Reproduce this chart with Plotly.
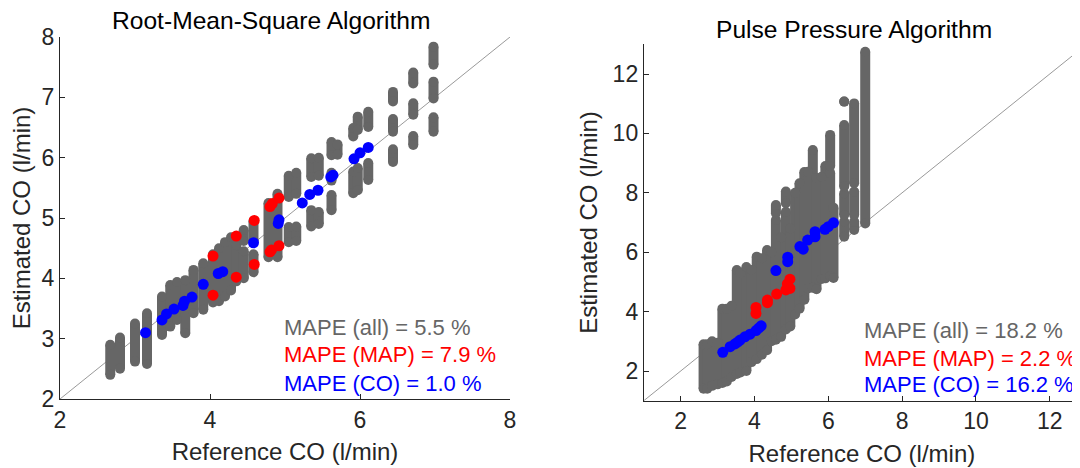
import plotly.graph_objects as go

# ---------------- data ----------------
# Root-Mean-Square: gray clouds as vertical runs of points (x, y_low, y_high)
rms_gray_x  = [2.67, 2.80, 3.00, 3.16, 3.36, 3.47, 3.56, 3.67, 3.78, 3.91,
               4.04, 4.12, 4.20, 4.28, 4.35, 4.45, 4.45, 4.58, 4.58, 4.78,
               4.90, 5.05, 5.15, 5.05, 5.15, 5.35, 5.45, 5.35, 5.45, 5.62,
               5.62, 5.70, 5.62, 5.91, 5.97, 6.11, 5.91, 5.97, 6.11, 6.44,
               6.44, 6.44, 6.71, 6.71, 6.71, 6.98, 6.98, 6.98]
rms_gray_lo = [2.40, 2.50, 2.62, 2.58, 3.06, 3.20, 3.31, 3.09, 3.42, 3.48,
               3.60, 3.62, 3.70, 3.80, 3.95, 4.00, 4.62, 4.10, 4.62, 4.35,
               4.35, 4.60, 4.62, 5.35, 5.40, 4.86, 4.90, 5.68, 5.70, 5.13,
               6.04, 6.05, 5.62, 5.41, 5.46, 5.63, 6.35, 6.46, 6.51, 5.93,
               6.43, 6.93, 6.21, 6.71, 7.23, 6.43, 6.98, 7.54]
rms_gray_hi = [2.90, 3.02, 3.25, 3.42, 3.70, 3.89, 3.94, 3.97, 4.14, 4.25,
               4.40, 4.50, 4.60, 4.68, 4.55, 4.45, 4.80, 4.40, 4.95, 5.25,
               5.40, 4.85, 4.86, 5.70, 5.75, 5.13, 5.10, 5.99, 6.00, 5.38,
               6.26, 6.22, 5.75, 5.77, 5.83, 5.91, 6.49, 6.68, 6.76, 6.14,
               6.64, 7.09, 6.36, 6.90, 7.41, 6.67, 7.26, 7.84]
rms_co_x  = [3.14, 3.36, 3.42, 3.52, 3.64, 3.66, 3.76, 3.91, 4.11, 4.17,
             4.58, 4.92, 4.91, 5.23, 5.33, 5.44, 5.61, 5.64, 5.92, 6.00, 6.11]
rms_co_y  = [3.10, 3.31, 3.41, 3.49, 3.55, 3.62, 3.69, 3.90, 4.08, 4.11,
             4.59, 4.97, 4.91, 5.25, 5.39, 5.46, 5.68, 5.71, 5.98, 6.08, 6.17]
rms_map_x = [4.04, 4.04, 4.35, 4.35, 4.59, 4.59, 4.80, 4.83, 4.92, 4.80, 4.82, 4.92]
rms_map_y = [4.37, 3.72, 4.70, 4.02, 4.96, 4.23, 5.19, 5.24, 5.33, 4.44, 4.47, 4.54]
rms_diag  = [2, 8]
rms_mape  = ["MAPE (all) = 5.5 %", "MAPE (MAP) = 7.9 %", "MAPE (CO) = 1.0 %"]

# Pulse Pressure
pp_gray_x  = [2.62, 2.72, 2.85, 3.00, 3.13, 3.25, 3.38, 3.52, 3.62, 3.78,
              3.92, 4.06, 4.20, 4.34, 4.46, 4.58, 4.58, 4.72, 4.85, 4.85,
              4.97, 5.10, 5.22, 5.35, 5.45, 5.58, 5.68, 5.82, 5.92, 6.05,
              6.05, 6.14, 6.43, 6.43, 6.43, 6.43, 6.70, 6.70, 6.70, 7.00]
pp_gray_lo = [1.40, 1.40, 1.50, 1.55, 1.60, 1.65, 1.80, 1.90, 1.95, 2.00,
              2.30, 2.40, 2.55, 2.70, 3.00, 3.05, 7.31, 3.15, 3.40, 7.65,
              3.50, 3.90, 4.10, 4.40, 4.78, 4.80, 4.75, 5.10, 5.12, 5.20,
              8.90, 5.13, 6.52, 7.25, 8.21, 11.07, 6.75, 7.25, 8.32, 6.97]
pp_gray_hi = [2.90, 2.90, 3.00, 2.95, 4.10, 4.10, 4.20, 5.40, 5.30, 5.50,
              5.40, 5.85, 5.80, 6.07, 6.00, 7.08, 7.59, 6.50, 7.36, 8.04,
              6.80, 8.00, 8.32, 8.70, 8.71, 9.44, 8.50, 8.54, 8.90, 8.67,
              9.95, 7.50, 7.03, 7.98, 10.28, 11.07, 7.03, 8.04, 11.01, 12.75]
pp_co_x  = [3.14, 3.34, 3.47, 3.54, 3.61, 3.74, 3.88, 4.04, 4.12, 4.18,
            4.58, 4.90, 4.90, 5.23, 5.32, 5.44, 5.64, 5.64, 5.91, 6.00, 6.14]
pp_co_y  = [2.63, 2.82, 2.91, 2.97, 3.04, 3.15, 3.24, 3.36, 3.45, 3.52,
            5.38, 5.83, 5.68, 6.19, 6.10, 6.41, 6.69, 6.52, 6.77, 6.86, 6.99]
pp_map_x = [4.04, 4.04, 4.35, 4.35, 4.60, 4.85, 4.89, 4.96, 4.96]
pp_map_y = [4.14, 3.94, 4.39, 4.30, 4.59, 4.73, 4.93, 5.09, 4.78]
pp_diag  = [1, 13]
pp_mape  = ["MAPE (all) = 18.2 %", "MAPE (MAP) = 2.2 %", "MAPE (CO) = 16.2 %"]

# ---------------- style ----------------
GRAY = "#666666"
RED = "#ff0000"
BLUE = "#0000ff"
AXC = "#262626"
FONT = "Liberation Sans, Arial, Helvetica, sans-serif"

fig = go.Figure()


def runs(xs, lo, hi):
    X, Y = [], []
    for x, a, b in zip(xs, lo, hi):
        X += [x, x, None]
        Y += [a, b, None]
    return X, Y


def add_panel(gx, glo, ghi, cx, cy, mx, my, diag, xa, ya):
    fig.add_trace(go.Scatter(x=diag, y=diag, mode="lines",
                             line=dict(color="#7f7f7f", width=0.8),
                             xaxis=xa, yaxis=ya, hoverinfo="skip"))
    X, Y = runs(gx, glo, ghi)
    fig.add_trace(go.Scatter(x=X, y=Y, mode="lines+markers",
                             line=dict(color=GRAY, width=10),
                             marker=dict(color=GRAY, size=10, line=dict(width=0)),
                             xaxis=xa, yaxis=ya))
    fig.add_trace(go.Scatter(x=mx, y=my, mode="markers",
                             marker=dict(color=RED, size=11, line=dict(width=0)),
                             xaxis=xa, yaxis=ya))
    fig.add_trace(go.Scatter(x=cx, y=cy, mode="markers",
                             marker=dict(color=BLUE, size=11, line=dict(width=0)),
                             xaxis=xa, yaxis=ya))


add_panel(rms_gray_x, rms_gray_lo, rms_gray_hi, rms_co_x, rms_co_y,
          rms_map_x, rms_map_y, rms_diag, "x", "y")
add_panel(pp_gray_x, pp_gray_lo, pp_gray_hi, pp_co_x, pp_co_y,
          pp_map_x, pp_map_y, pp_diag, "x2", "y2")

# the page body adds an 8 px margin, so the figure is 8 px smaller each way
OFF = 8
W, H = 1080 - OFF, 468 - OFF


def px(sx):
    return (sx - OFF) / W


def py(sy):
    return (H - (sy - OFF)) / H


def ax(domain, rng, ticks, title, standoff):
    return dict(domain=domain, range=rng, tickvals=ticks,
                ticktext=[str(t) for t in ticks], automargin=False,
                ticks="inside", ticklen=5, tickcolor=AXC, tickwidth=1,
                showline=True, linecolor=AXC, linewidth=1, mirror=False,
                showgrid=False, zeroline=False,
                tickfont=dict(family=FONT, size=23, color=AXC),
                title=dict(text=title, font=dict(family=FONT, size=24, color=AXC),
                           standoff=standoff))


fig.update_layout(
    width=W, height=H, margin=dict(l=0, r=0, t=0, b=0, autoexpand=False),
    paper_bgcolor="white", plot_bgcolor="white", showlegend=False,
    xaxis=ax([px(60), px(510)], [2, 8], [2, 4, 6, 8], "Reference CO (l/min)", 11),
    yaxis=ax([py(399), py(37)], [2, 8], [2, 3, 4, 5, 6, 7, 8],
             "Estimated CO (l/min)", 8),
    xaxis2=ax([px(643.8), 1.0], [1, 12.82], [2, 4, 6, 8, 10, 12],
              "Reference CO (l/min)", 11),
    yaxis2=ax([py(400.7), py(44.3)], [1, 13], [2, 4, 6, 8, 10, 12],
              "Estimated CO (l/min)", 8),
)
fig.layout.xaxis2.anchor = "y2"
fig.layout.yaxis2.anchor = "x2"

anns = []
anns.append(dict(text="Root-Mean-Square Algorithm", x=px(271), y=py(21),
                 xref="paper", yref="paper", showarrow=False,
                 xanchor="center", yanchor="middle",
                 font=dict(family=FONT, size=24.6, color="black")))
anns.append(dict(text="Pulse Pressure Algorithm", x=px(854), y=py(30),
                 xref="paper", yref="paper", showarrow=False,
                 xanchor="center", yanchor="middle",
                 font=dict(family=FONT, size=24.6, color="black")))
for txt, yv, col in zip(rms_mape, [3.19, 2.73, 2.26], [GRAY, RED, BLUE]):
    anns.append(dict(text=txt, x=4.96, y=yv, xref="x", yref="y", showarrow=False,
                     xanchor="left", yanchor="middle",
                     font=dict(family=FONT, size=22, color=col)))
for txt, yv, col in zip(pp_mape, [3.38, 2.43, 1.53], [GRAY, RED, BLUE]):
    anns.append(dict(text=txt, x=6.90, y=yv, xref="x2", yref="y2", showarrow=False,
                     xanchor="left", yanchor="middle",
                     font=dict(family=FONT, size=22, color=col)))
fig.update_layout(annotations=anns)

fig.write_html("out.html")
